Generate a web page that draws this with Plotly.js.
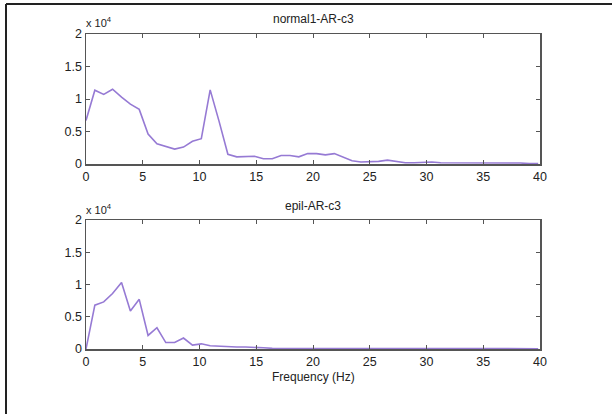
<!DOCTYPE html>
<html>
<head>
<meta charset="utf-8">
<script src="https://cdn.plot.ly/plotly-3.0.1.min.js"></script>
<style>html,body{margin:0;padding:0;background:#fff;}#chart{width:612px;height:414px;}</style>
</head>
<body>
<div id="chart"></div>
<script>
// Frequency bins (Hz)
var freq = [0, 0.78, 1.56, 2.34, 3.13, 3.91, 4.69, 5.47, 6.25, 7.03, 7.81, 8.59, 9.38, 10.16, 10.94, 11.72,
  12.5, 13.28, 14.06, 14.84, 15.63, 16.41, 17.19, 17.97, 18.75, 19.53, 20.31, 21.09, 21.88, 22.66, 23.44, 24.22,
  25.0, 25.78, 26.56, 27.34, 28.13, 28.91, 29.69, 30.47, 31.25, 32.03, 32.81, 33.59, 34.38, 35.16, 35.94, 36.72,
  37.5, 38.28, 39.06, 39.84];

// normal1-AR-c3 power
var normalPower = [6700, 11350, 10700, 11500, 10300, 9200, 8400, 4600, 3100, 2700, 2300, 2600, 3500, 3900, 11400, 6600,
  1500, 1100, 1100, 1200, 800, 800, 1300, 1300, 1100, 1600, 1600, 1400, 1600, 1100, 500, 300,
  300, 400, 600, 400, 200, 200, 300, 300, 200, 200, 200, 200, 200, 200, 200, 200,
  200, 150, 50, 50];

// epil-AR-c3 power
var epilPower = [0, 6800, 7300, 8600, 10300, 5900, 7700, 2100, 3300, 1000, 1000, 1700, 600, 800, 500, 400,
  400, 300, 300, 300, 200, 100, 100, 100, 100, 100, 100, 100, 100, 100, 100, 100,
  100, 100, 100, 100, 100, 100, 100, 100, 100, 100, 100, 100, 100, 100, 100, 100,
  100, 80, 50, 50];

var titles = ["normal1-AR-c3", "epil-AR-c3"];
var xTicks = [0, 5, 10, 15, 20, 25, 30, 35, 40];
var yTickVals = [0, 5000, 10000, 15000, 20000];
var yTickText = ["0", "0.5", "1", "1.5", "2"];
var xLabel = "Frequency (Hz)";
var expLabel = "x 10<sup>4</sup>";

var W = 612, H = 414;
var lineColor = "rgb(150,122,212)";
var font = {family: "Liberation Sans, Arial, sans-serif", size: 12, color: "#222"};
var tickFont = {family: "Liberation Sans, Arial, sans-serif", size: 12.5, color: "#222"};

var traces = [
  {x: freq, y: normalPower, type: "scatter", mode: "lines", line: {color: lineColor, width: 1.6}, xaxis: "x", yaxis: "y", hoverinfo: "none"},
  {x: freq, y: epilPower, type: "scatter", mode: "lines", line: {color: lineColor, width: 1.6}, xaxis: "x2", yaxis: "y2", hoverinfo: "none"}
];

function xa(domain, anchor) {
  return {domain: domain, anchor: anchor, range: [0, 40], tickvals: xTicks, ticktext: xTicks.map(String),
    ticks: "inside", ticklen: 4, tickcolor: "#555", tickwidth: 1, mirror: "ticks", showline: true, linecolor: "#555", linewidth: 1.5,
    showgrid: false, zeroline: false, tickfont: tickFont, fixedrange: true};
}
function ya(domain, anchor) {
  return {domain: domain, anchor: anchor, range: [0, 20000], tickvals: yTickVals, ticktext: yTickText,
    ticks: "inside", ticklen: 4, tickcolor: "#555", tickwidth: 1, mirror: "ticks", showline: true, linecolor: "#555", linewidth: 1.5,
    showgrid: false, zeroline: false, tickfont: tickFont, fixedrange: true};
}

var xd = [86 / W, 540 / W];
var layout = {
  width: W, height: H,
  margin: {l: 0, r: 0, t: 0, b: 0},
  paper_bgcolor: "#fff", plot_bgcolor: "#fff",
  showlegend: false,
  font: font,
  xaxis: xa(xd, "y"),
  yaxis: ya([(H - 164) / H, (H - 34) / H], "x"),
  xaxis2: xa(xd, "y2"),
  yaxis2: ya([(H - 349) / H, (H - 220) / H], "x2"),
  annotations: [
    {text: titles[0], xref: "paper", yref: "paper", x: 313 / W, y: (H - 19) / H, showarrow: false, xanchor: "center", yanchor: "middle", font: font},
    {text: titles[1], xref: "paper", yref: "paper", x: 313 / W, y: (H - 206) / H, showarrow: false, xanchor: "center", yanchor: "middle", font: font},
    {text: expLabel, xref: "paper", yref: "paper", x: 84 / W, y: (H - 22) / H, showarrow: false, xanchor: "left", yanchor: "middle", font: {family: font.family, size: 11, color: "#222"}},
    {text: expLabel, xref: "paper", yref: "paper", x: 84 / W, y: (H - 209) / H, showarrow: false, xanchor: "left", yanchor: "middle", font: {family: font.family, size: 11, color: "#222"}},
    {text: xLabel, xref: "paper", yref: "paper", x: 313 / W, y: (H - 377) / H, showarrow: false, xanchor: "center", yanchor: "middle", font: font}
  ],
  shapes: [
    {type: "line", xref: "paper", yref: "paper", x0: 6 / W, x1: 6 / W, y0: 0, y1: (H - 4) / H, line: {color: "#222", width: 2}},
    {type: "line", xref: "paper", yref: "paper", x0: 6 / W, x1: 1, y0: (H - 4) / H, y1: (H - 4) / H, line: {color: "#222", width: 2}}
  ]
};

Plotly.newPlot("chart", traces, layout, {staticPlot: true, displayModeBar: false});
</script>
</body>
</html>
